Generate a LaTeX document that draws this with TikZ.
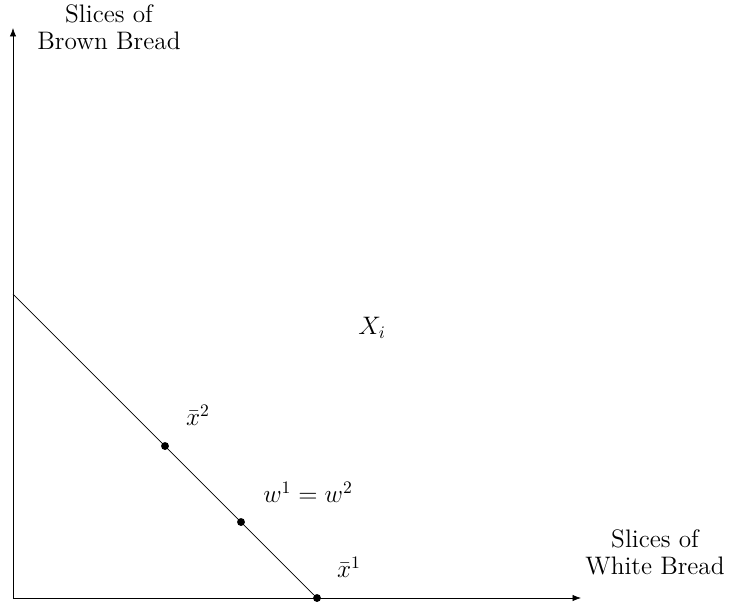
\documentclass[tikz,border=0pt]{standalone}
\usepackage{amsmath,amssymb}
\usepackage{tikz}
\usetikzlibrary{arrows.meta, positioning}

\begin{document}
\begin{tikzpicture}[>=Latex, font=\fontsize{14.4}{15.5}\selectfont,
    axislabel/.style={align=center},
    dot/.style={circle, fill=black, inner sep=0pt, minimum size=4.5pt}]
    \useasboundingbox (-0.26,-0.12) rectangle (14.34,11.96);

    % axes
    \coordinate (origin) at (0,0);
    \coordinate (ytip) at (0,11.4);
    \coordinate (xtip) at (11.36,0);
    \draw[->] (origin) -- (ytip);
    \draw[->] (origin) -- (xtip);
    \node[axislabel] (brown) at (1.92,11.42) {Slices of\\Brown Bread};
    \node[axislabel] (white) at (12.84,0.92) {Slices of\\White Bread};

    % budget line and endowments
    \coordinate (top) at (0,6.08);
    \node[dot] (xbar1) at (6.08,0) {};
    \node[dot] (xbar2) at (3.04,3.04) {};
    \node[dot] (w) at (4.56,1.52) {};
    \draw (top) -- (xbar1);

    \node[inner sep=1pt] (lx1) at (6.72,0.62) {$\bar{x}^1$};
    \node[inner sep=1pt] (lx2) at (3.7,3.66) {$\bar{x}^2$};
    \node[inner sep=1pt] (lw) at (5.9,2.12) {$w^1 = w^2$};
    \node (Xi) at (7.18,5.4) {$X_i$};
\end{tikzpicture}
\end{document}
